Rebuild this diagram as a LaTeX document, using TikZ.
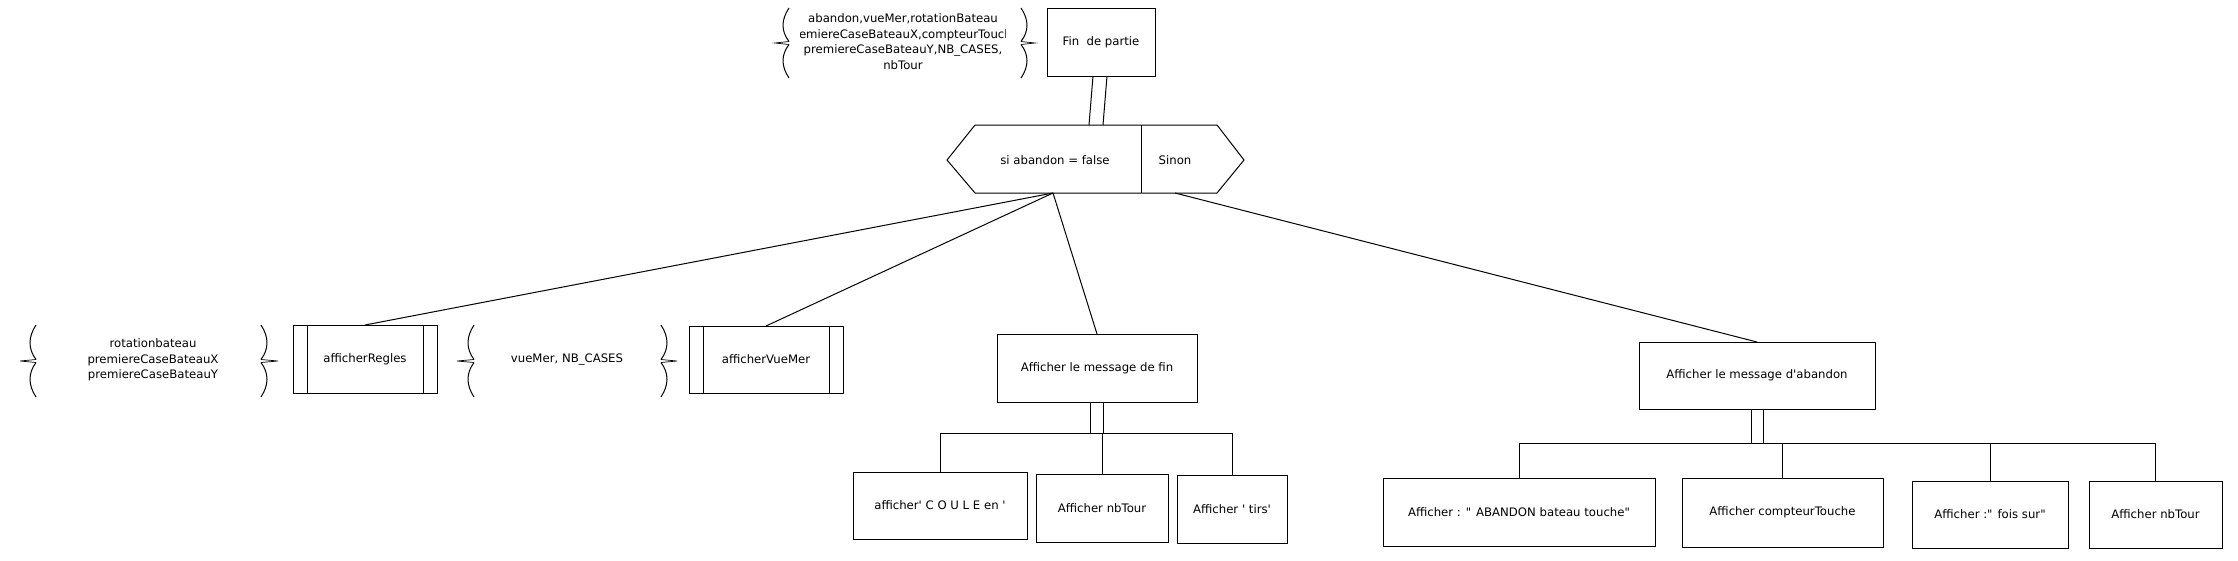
\documentclass[tikz,border=0pt]{standalone}
\usepackage{fontspec}
\setmainfont{DejaVu Sans}
\newcommand{\myq}{\textquotesingle}
\newcommand{\myqq}{\textquotedbl}
% left brace: tip x, curve x, top y, bottom y
\newcommand{\drawLBrace}[4]{%
  \pgfmathsetmacro\bmid{(#3+#4)/2}%
  \pgfmathsetmacro\bq{(#4-#3)*0.17}%
  \draw (#2+6,#3) .. controls (#2-2,#3+\bq) and (#2-2,\bmid-\bq) .. (#2+6,\bmid-1.5);
  \draw (#2+6,\bmid+1.5) .. controls (#2-2,\bmid+\bq) and (#2-2,#4-\bq) .. (#2+6,#4);
  \draw[line width=0.7pt] (#2+6,\bmid-1.5) -- (#1,\bmid) -- (#2+6,\bmid+1.5);}
\newcommand{\drawRBrace}[4]{%
  \pgfmathsetmacro\bmid{(#3+#4)/2}%
  \pgfmathsetmacro\bq{(#4-#3)*0.17}%
  \draw (#2-6,#3) .. controls (#2+2,#3+\bq) and (#2+2,\bmid-\bq) .. (#2-6,\bmid-1.5);
  \draw (#2-6,\bmid+1.5) .. controls (#2+2,\bmid+\bq) and (#2+2,#4-\bq) .. (#2-6,#4);
  \draw[line width=0.7pt] (#2-6,\bmid-1.5) -- (#1,\bmid) -- (#2-6,\bmid+1.5);}
\begin{document}
\begin{tikzpicture}[x=1pt,y=-1pt,line width=1pt,
  every node/.style={font=\fontsize{11.7}{15.6}\selectfont,inner sep=0pt,outer sep=0pt},
  box/.style={draw,rectangle,align=center},
  subproc/.style={box,path picture={
      \draw ([xshift=14pt]path picture bounding box.north west) -- ([xshift=14pt]path picture bounding box.south west);
      \draw ([xshift=-14pt]path picture bounding box.north east) -- ([xshift=-14pt]path picture bounding box.south east);}},
  txt/.style={align=center}]
\useasboundingbox (0,0) rectangle (2238,560);

% top: parameters and Fin de partie
\begin{scope}
  \clip (800,0) rectangle (1005,90);
  \node[txt] (args) at (903,41.5) {abandon,vueMer,rotationBateau\\premiereCaseBateauX,compteurTouche\\premiereCaseBateauY,NB\_CASES,\\nbTour};
\end{scope}
\drawLBrace{775}{783}{8}{78}
\drawRBrace{1035}{1027}{8}{78}
\node[box,minimum width=108pt,minimum height=68pt] (fin) at (1101,42) {Fin\ \ de partie};

% hexagon (si / sinon)
\draw (947,160) -- (975,125) -- (1217,125) -- (1244,160) -- (1217,193) -- (975,193) -- cycle;
\draw (1141,125) -- (1141,193);
\node[txt] (si) at (1055,160) {si abandon = false};
\node[txt] (sinon) at (1175,160) {Sinon};
\coordinate (hexTopL) at (1089,125);
\coordinate (hexTopR) at (1103,125);
\coordinate (ifout) at (1053,193);
\coordinate (elseout) at (1175,193);
\draw ([xshift=-8pt]fin.south) -- (hexTopL);
\draw ([xshift=6pt]fin.south) -- (hexTopR);

% second level
\node[txt] (argsR) at (153,360) {rotationbateau\\premiereCaseBateauX\\premiereCaseBateauY};
\drawLBrace{20}{30}{325}{397}
\drawRBrace{278}{267}{325}{397}
\node[subproc,minimum width=144pt,minimum height=68pt] (regles) at (365,359) {afficherRegles};

\node[txt] (argsV) at (567,360) {vueMer, NB\_CASES};
\drawLBrace{457}{468}{325}{397}
\drawRBrace{677}{667}{325}{397}
\node[subproc,minimum width=154pt,minimum height=67pt] (vuemer) at (766,359.5) {afficherVueMer};

\node[box,minimum width=200pt,minimum height=68pt] (msgfin) at (1097,368) {Afficher le message de fin};
\node[box,minimum width=236pt,minimum height=67pt] (msgab) at (1757,375.5) {Afficher le message d\myq abandon};

\draw (ifout) -- (regles.north);
\draw (ifout) -- (vuemer.north);
\draw (ifout) -- (msgfin.north);
\draw (elseout) -- (msgab.north);

% children of message de fin
\node[box,minimum width=174pt,minimum height=67pt] (c1) at (940,505.5) {afficher\myq{} C O U L E en \myq};
\node[box,minimum width=132pt,minimum height=68pt] (c2) at (1102,508) {Afficher nbTour};
\node[box,minimum width=110pt,minimum height=68pt] (c3) at (1232,509) {Afficher \myq{} tirs\myq};
\coordinate (busF) at (1097,433.5);
\draw ([xshift=-6.5pt]msgfin.south) -- ([xshift=-6.5pt]msgfin.south |- busF);
\draw ([xshift=6.5pt]msgfin.south) -- ([xshift=6.5pt]msgfin.south |- busF);
\draw (c1.north) |- (busF) -| (c3.north);
\draw (c2.north) -- (c2.north |- busF);

% children of message d'abandon
\node[box,minimum width=272pt,minimum height=68pt] (a1) at (1519,512) {Afficher : \myqq{} ABANDON bateau touche\myqq};
\node[box,minimum width=201pt,minimum height=69pt] (a2) at (1782.5,512.5) {Afficher compteurTouche};
\node[box,minimum width=156pt,minimum height=67pt] (a3) at (1990,514.5) {Afficher :\myqq{} fois sur\myqq};
\node[box,minimum width=133pt,minimum height=67pt] (a4) at (2155.5,514.5) {Afficher nbTour};
\coordinate (busA) at (1757,443.5);
\draw ([xshift=-6pt]msgab.south) -- ([xshift=-6pt]msgab.south |- busA);
\draw ([xshift=6pt]msgab.south) -- ([xshift=6pt]msgab.south |- busA);
\draw (a1.north) |- (busA) -| (a4.north);
\draw (a2.north) -- (a2.north |- busA);
\draw (a3.north) -- (a3.north |- busA);
\end{tikzpicture}
\end{document}
